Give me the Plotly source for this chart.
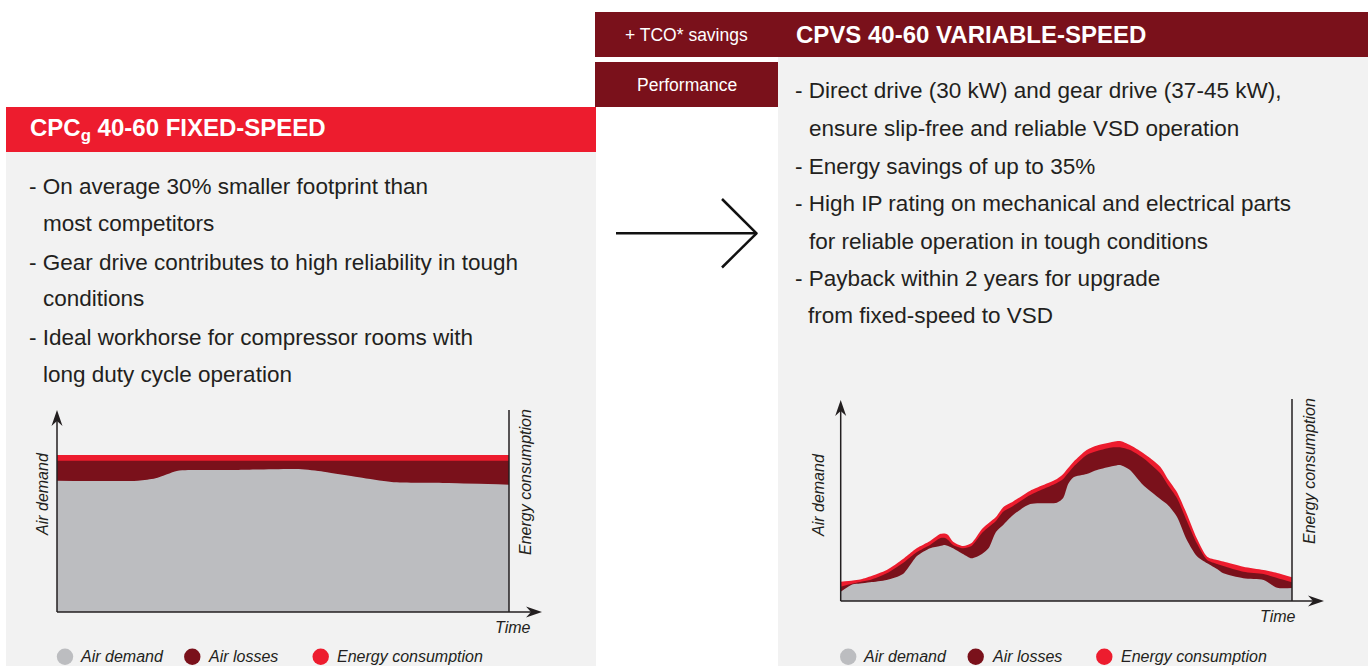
import plotly.graph_objects as go

W, H = 1368, 666

# ---------------- data ----------------
# Fixed-speed chart (time in % of the chart width, values in chart units)
fixed_time = [0, 17.9, 21.8, 26.5, 29.0, 39.2, 53.5, 59.0, 66.8, 74.0, 86.6, 100]
fixed_air_demand = [131.3, 131.3, 133.7, 141, 142, 142, 143, 140.3, 134.7, 130, 129, 127.3]
fixed_demand_plus_losses = [151.3, 151.3, 151.3, 151.3, 151.3, 151.3, 151.3, 151.3, 151.3, 151.3, 151.3, 151.3]
fixed_energy = [157, 157, 157, 157, 157, 157, 157, 157, 157, 157, 157, 157]

# Variable-speed chart
var_time = [0, 2.7, 4.3, 6.5, 10.2, 13.8, 16.0, 16.9, 19.8, 22.0, 23.1, 23.8, 24.9, 27.1,
            29.0, 31.3, 32.8, 34.4, 36.0, 38.2, 42.0, 47.9, 49.3, 50.4, 51.6, 54.5, 56.8,
            60.4, 61.9, 64.1, 67.0, 70.8, 72.5, 74.5, 76.7, 78.9, 81.2, 83.4, 84.8, 89.2,
            93.7, 96.7, 100]
var_air_demand = [9.3, 16.7, 17.5, 18.7, 21, 27, 40, 45, 52.7, 55, 56, 55, 52.7, 47,
                  42.7, 47, 53, 69, 76, 86, 97, 98.3, 103, 117, 123.7, 127, 131,
                  135, 136, 131, 116, 102, 96, 84.3, 61, 45, 37.7, 32, 27.7, 22.7,
                  21, 13.3, 13]
var_demand_plus_losses = [14.3, 17.5, 19, 21, 27.7, 38, 46, 49, 56, 62.7, 63, 61, 56, 52.7,
                          55, 68, 74, 80, 89.3, 95, 106, 118, 122, 128, 134.3, 146, 150,
                          153.7, 153.7, 151, 143, 127.7, 116, 103, 80, 57.7, 41, 37, 35, 29.3,
                          27, 23, 18.7]
var_energy = [19.3, 20.5, 21.5, 24.5, 31, 42, 50, 53, 60, 67, 67.5, 66, 59.3, 55,
              58, 72, 78, 84, 93.7, 99.5, 110.3, 122, 127, 133, 139.3, 151, 155.5,
              159.3, 160, 156, 148, 134.3, 122, 109, 87, 62.7, 44.3, 41, 39.5, 34.3,
              31, 28, 23.7]

series_names = ["Air demand", "Air losses", "Energy consumption"]
series_colors = ["#bcbdc0", "#7a111b", "#ed1c2e"]

left_title = "CPC<sub>g</sub> 40-60 FIXED-SPEED"
right_title = "CPVS 40-60 VARIABLE-SPEED"
tab_labels = ["+ TCO* savings", "Performance"]

left_lines = ["- On average 30% smaller footprint than", "most competitors",
              "- Gear drive contributes to high reliability in tough", "conditions",
              "- Ideal workhorse for compressor rooms with", "long duty cycle operation"]
right_lines = ["- Direct drive (30 kW) and gear drive (37-45 kW),",
               "ensure slip-free and reliable VSD operation",
               "- Energy savings of up to 35%",
               "- High IP rating on mechanical and electrical parts",
               "for reliable operation in tough conditions",
               "- Payback within 2 years for upgrade",
               "from fixed-speed to VSD"]

# ---------------- helpers ----------------
FONT = "Liberation Sans, Arial, Helvetica, sans-serif"
TXT = "#231f20"
GREY, DARK, RED = series_colors
PANEL = "#f2f2f2"
DARKHDR = "#7a111b"


def X(px):
    return px / W


def Y(py):
    return 1 - py / H


fig = go.Figure()

# areas: energy first, then losses, then demand on top
for xa, ya, t, tops in [("x", "y", fixed_time, [fixed_energy, fixed_demand_plus_losses, fixed_air_demand]),
                        ("x2", "y2", var_time, [var_energy, var_demand_plus_losses, var_air_demand])]:
    for ys, col, nm in zip(tops, [RED, DARK, GREY], series_names[::-1]):
        fig.add_trace(go.Scatter(x=t, y=ys, mode="lines", name=nm,
                                 line=dict(width=0, shape="spline", smoothing=0.7, color=col),
                                 fill="tozeroy", fillcolor=col, xaxis=xa, yaxis=ya,
                                 showlegend=False, hoverinfo="skip"))

shapes = []


def rect(x0, y0, x1, y1, color):
    shapes.append(dict(type="rect", xref="paper", yref="paper", x0=X(x0), x1=X(x1),
                       y0=Y(y1), y1=Y(y0), fillcolor=color, line=dict(width=0), layer="below"))


def line(x0, y0, x1, y1, width=1.5, color=TXT):
    shapes.append(dict(type="line", xref="paper", yref="paper", x0=X(x0), y0=Y(y0),
                       x1=X(x1), y1=Y(y1), line=dict(color=color, width=width)))


def poly(pts, color=TXT):
    d = "M " + " L ".join(f"{X(a):.6f},{Y(b):.6f}" for a, b in pts) + " Z"
    shapes.append(dict(type="path", xref="paper", yref="paper", path=d,
                       fillcolor=color, line=dict(width=0)))


def circle(cx, cy, r, color):
    shapes.append(dict(type="circle", xref="paper", yref="paper", x0=X(cx - r), x1=X(cx + r),
                       y0=Y(cy + r), y1=Y(cy - r), fillcolor=color, line=dict(width=0)))


# panels
rect(6, 152, 596, 666, PANEL)
rect(6, 107, 596, 152, RED)
rect(778, 57, 1368, 666, PANEL)
rect(595, 12, 1368, 57, DARKHDR)
rect(595, 62, 778, 107, DARKHDR)

# middle arrow
line(616, 233.3, 756, 233.3, width=2.5, color="#111111")
line(722, 199, 757, 233.8, width=2.5, color="#111111")
line(722, 267.5, 757, 232.8, width=2.5, color="#111111")


def chart_frame(x0, x1, ybase, ytop, xtip, right_top):
    line(x0, ybase, x0, ytop + 10)
    line(x0, ybase, xtip - 10, ybase)
    line(x1, right_top, x1, ybase)
    poly([(x0, ytop), (x0 - 5.5, ytop + 16), (x0, ytop + 11), (x0 + 5.5, ytop + 16)])
    poly([(xtip, ybase), (xtip - 16, ybase - 5.5), (xtip - 11, ybase), (xtip - 16, ybase + 5.5)])


chart_frame(57, 509, 612, 410, 542, 410)
chart_frame(840.7, 1292, 601, 400, 1324, 399)

annotations = []


def text(x, y, s, size=22.5, color=TXT, anchor="left", angle=0):
    annotations.append(dict(xref="paper", yref="paper", x=X(x), y=Y(y), text=s,
                            showarrow=False, xanchor=anchor, yanchor="middle", textangle=angle,
                            font=dict(family=FONT, size=size, color=color)))


# headers
text(28, 130, f"<b>{left_title}</b>", size=24, color="white")
text(794, 35, f"<b>{right_title}</b>", size=24, color="white")
text(687, 35, tab_labels[0], size=17.5, color="white", anchor="center")
text(687, 85, tab_labels[1], size=17.5, color="white", anchor="center")

# bullet texts
left_pos = [(27, 187), (41, 224), (27, 262), (41, 299), (27, 337), (41, 374)]
for (x, y), s in zip(left_pos, left_lines):
    text(x, y, s)
right_pos = [(793, 91), (807, 128), (793, 166), (793, 203), (807, 241), (793, 278), (806, 315)]
for (x, y), s in zip(right_pos, right_lines):
    text(x, y, s)

# axis labels
for ax_x, ay, ex, ey, tx, ty in [(42, 494, 525, 482, 513, 627), (818, 495, 1309, 471, 1278, 616)]:
    text(ax_x, ay, "<i>Air demand</i>", size=16, anchor="center", angle=-90)
    text(ex, ey, "<i>Energy consumption</i>", size=16, anchor="center", angle=-90)
    text(tx, ty, "<i>Time</i>", size=16, anchor="center")

# legends
for cxs, txs in [([65, 192.3, 320.7], [80, 208, 337]), ([848.2, 975.7, 1104.3], [863.4, 992, 1120.7])]:
    for cx, tx, nm, col in zip(cxs, txs, series_names, series_colors):
        circle(cx, 656.7, 8.2, col)
        text(tx - 2, 656, f"<i>{nm}</i>", size=16)

fig.update_layout(
    width=W, height=H, autosize=False,
    margin=dict(l=0, r=0, t=0, b=0, pad=0),
    paper_bgcolor="white", plot_bgcolor="rgba(0,0,0,0)",
    showlegend=False,
    xaxis=dict(domain=[X(57), X(509)], range=[0, 100], visible=False, fixedrange=True),
    yaxis=dict(domain=[Y(612), Y(410)], range=[0, 202], visible=False, fixedrange=True),
    xaxis2=dict(domain=[X(840.7), X(1292)], range=[0, 100], visible=False, anchor="y2", fixedrange=True),
    yaxis2=dict(domain=[Y(601), Y(400)], range=[0, 201], visible=False, anchor="x2", fixedrange=True),
    shapes=shapes, annotations=annotations,
)

fig.write_html("out.html", config={"displayModeBar": False, "staticPlot": True},
               post_script="document.body.style.margin='0';document.body.style.overflow='hidden';")
